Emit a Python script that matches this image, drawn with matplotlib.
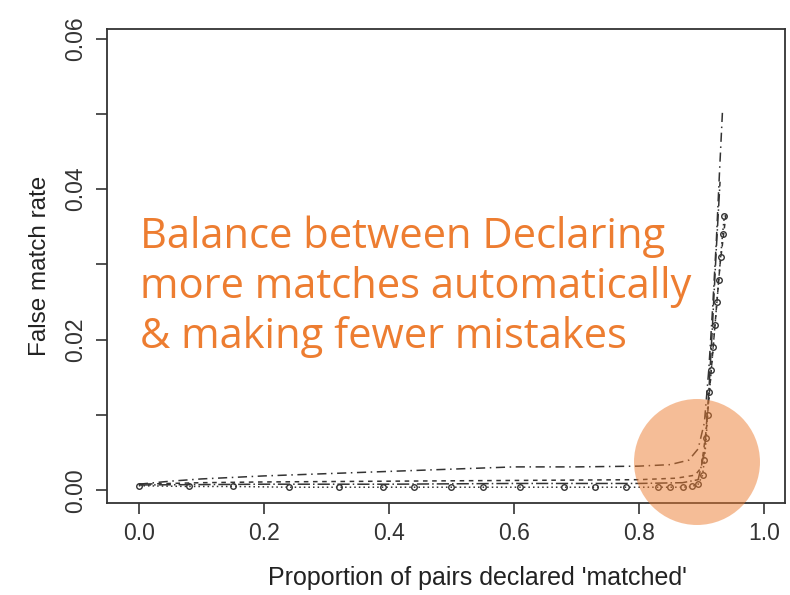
import numpy as np
import matplotlib.pyplot as plt
from matplotlib.patches import Ellipse

plt.rcParams['font.family'] = ['Liberation Sans', 'DejaVu Sans']

# upper dash-dot curve
x_a = [0.0, 0.05, 0.1, 0.2, 0.3, 0.4, 0.5, 0.6, 0.7, 0.8, 0.85, 0.88, 0.895,
       0.905, 0.912, 0.918, 0.924, 0.929, 0.934]
y_a = [0.0008, 0.0012, 0.0015, 0.0019, 0.0022, 0.0025, 0.0028, 0.0031, 0.0031,
       0.0032, 0.0034, 0.0040, 0.0055, 0.009, 0.016, 0.024, 0.033, 0.042, 0.0505]

# dashed curve
x_b = [0.0, 0.1, 0.2, 0.4, 0.6, 0.8, 0.86, 0.89, 0.9, 0.908, 0.915, 0.922, 0.93, 0.94]
y_b = [0.0008, 0.0010, 0.0011, 0.0012, 0.0013, 0.0014, 0.0016, 0.0020, 0.003,
       0.008, 0.015, 0.022, 0.030, 0.037]

# dotted curve with circles
x_c = [0.0, 0.08, 0.15, 0.24, 0.32, 0.39, 0.44, 0.50, 0.55, 0.61, 0.68, 0.73, 0.78,
       0.83, 0.85, 0.87, 0.885, 0.895, 0.902, 0.905, 0.908, 0.91, 0.913, 0.916,
       0.919, 0.922, 0.925, 0.928, 0.931, 0.934, 0.937]
y_c = [0.0006, 0.0005, 0.0005, 0.0004, 0.0004, 0.0004, 0.0004, 0.0004, 0.0004,
       0.0004, 0.0004, 0.0004, 0.0004, 0.0004, 0.0004, 0.0004, 0.0005, 0.0008,
       0.002, 0.004, 0.007, 0.010, 0.013, 0.016, 0.019, 0.022, 0.025, 0.028,
       0.031, 0.034, 0.0365]

# lower dash-dot curve
x_d = [0.0, 0.2, 0.4, 0.6, 0.8, 0.87, 0.895, 0.905, 0.912, 0.918, 0.924, 0.93]
y_d = [0.0007, 0.0008, 0.0008, 0.0009, 0.0009, 0.0010, 0.0014, 0.005, 0.013,
       0.022, 0.032, 0.041]

note_lines = ['Balance between Declaring', 'more matches automatically',
              '& making fewer mistakes']

fig = plt.figure(figsize=(7.9, 5.95), dpi=100)
ax = fig.add_axes([0.1354, 0.1546, 0.8583, 0.7967])

col = '#333333'
ax.plot(x_a, y_a, color=col, lw=1.1, ls=(0, (6, 3, 1, 3)))
ax.plot(x_b, y_b, color=col, lw=1.1, ls=(0, (3, 3)))
ax.plot(x_c, y_c, color=col, lw=1.1, ls=(0, (1, 2)), marker='o', ms=4,
        mfc='none', mec=col, mew=1.0)
ax.plot(x_d, y_d, color=col, lw=1.1, ls=(0, (8, 2, 1, 2)))

ax.set_xlim(-0.051, 1.034)
ax.set_ylim(-0.0017, 0.0613)
ax.set_xticks([0.0, 0.2, 0.4, 0.6, 0.8, 1.0])
ax.set_yticks([0.0, 0.01, 0.02, 0.03, 0.04, 0.05, 0.06])
ax.set_yticklabels(['0.00', '', '0.02', '', '0.04', '', '0.06'], rotation=90, va='center')
ax.tick_params(direction='out', length=8, width=1.2, colors=col, labelsize=16.5, pad=6)
for s in ax.spines.values():
    s.set_color(col)
    s.set_linewidth(1.3)

# label sits a bit right of the axes centre in the original
fig.text(477 / 790, 1 - 578 / 595, "Proportion of pairs declared 'matched'",
         fontsize=18, color='#222222', ha='center', va='center')
ax.set_ylabel('False match rate', fontsize=17.5, color='#222222', labelpad=10)

for i, line in enumerate(note_lines):
    fig.text(140 / 790, 1 - (248 + 50 * i) / 595, line, color='#ED7D31',
             fontsize=30, family=['Open Sans', 'DejaVu Sans'],
             ha='left', va='baseline')

circ = Ellipse((697 / 790, 1 - 462 / 595), 126 / 790, 126 / 595,
               transform=fig.transFigure, color='#ED7D31', alpha=0.5, lw=0, zorder=5)
fig.patches.append(circ)

fig.savefig('out.png', dpi=100)
